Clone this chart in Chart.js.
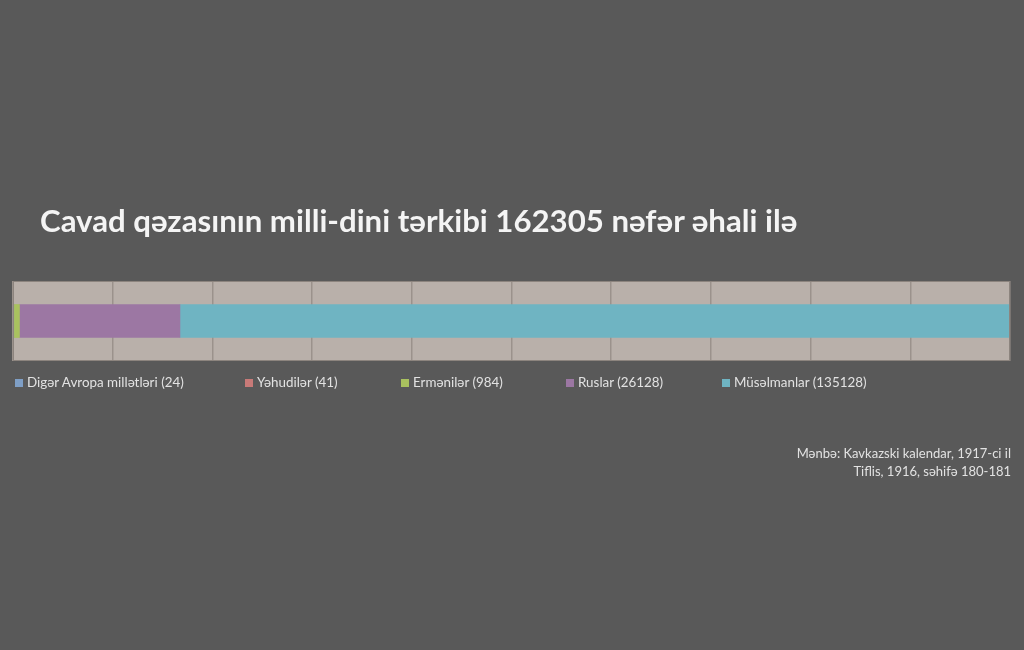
<!DOCTYPE html>
<html>
<head>
<meta charset="utf-8">
<script src="https://cdn.jsdelivr.net/npm/chart.js@4"></script>
<style>
  body { margin: 0; background: #595959; font-family: Lato, "Open Sans", sans-serif; }
  #wrap { position: relative; width: 1024px; height: 650px; overflow: hidden; }
  #title { position: absolute; left: 40px; top: 201px; font-size: 31.2px; font-weight: bold; color: #f4f4f4; white-space: nowrap; }
  #legend { position: absolute; top: 374px; left: 0; width: 1024px; height: 20px; font-size: 13.4px; color: #e2e2e2; }
  #legend span.item { position: absolute; white-space: nowrap; }
  #legend i { display: inline-block; width: 8px; height: 8px; margin-right: 4px; vertical-align: 0px; }
  #source { position: absolute; right: 13px; top: 444px; font-size: 13px; line-height: 18px; color: #e2e2e2; text-align: right; }
  canvas { position: absolute; left: 0; top: 0; }
</style>
</head>
<body>
<div id="wrap">
  <canvas id="chart" width="1024" height="650"></canvas>
  <div id="title">Cavad qəzasının milli-dini tərkibi 162305 nəfər əhali ilə</div>
  <div id="legend"></div>
  <div id="source">Mənbə: Kavkazski kalendar, 1917-ci il<br>Tiflis, 1916, səhifə 180-181</div>
</div>
<script>
const groups = ['Digər Avropa millətləri', 'Yəhudilər', 'Ermənilər', 'Ruslar', 'Müsəlmanlar'];
const counts = [24, 41, 984, 26128, 135128];
const barColors = ['#7f9fc6', '#c87a78', '#a9c15f', '#9c77a3', '#6fb4c2'];
const legendX = [15, 245, 401, 566, 722];

const total = counts.reduce((a, b) => a + b, 0);

const plotBg = {
    id: 'plotBg',
    beforeDraw(chart) {
        const { ctx, chartArea: a } = chart;
        ctx.save();
        ctx.fillStyle = '#b9b0aa';
        ctx.fillRect(a.left, a.top, a.width, a.height);
        ctx.restore();
    },
    afterDraw(chart) {
        const { ctx, chartArea: a } = chart;
        ctx.save();
        ctx.strokeStyle = '#8c847e';
        ctx.lineWidth = 1;
        ctx.strokeRect(a.left + 0.5, a.top + 0.5, a.width - 1, a.height - 1);
        ctx.restore();
    }
};

const chart = new Chart(document.getElementById('chart').getContext('2d'), {
    type: 'bar',
    data: {
        labels: [''],
        datasets: groups.map((g, i) => ({
            label: g + ' (' + counts[i] + ')',
            data: [counts[i]],
            backgroundColor: barColors[i],
            borderWidth: 0,
            barThickness: 33
        }))
    },
    options: {
        indexAxis: 'y',
        responsive: false,
        animation: false,
        layout: { padding: { left: 13, right: 14, top: 281, bottom: 289 } },
        plugins: { legend: { display: false }, tooltip: { enabled: false } },
        scales: {
            x: {
                stacked: true,
                min: 0,
                max: total,
                afterBuildTicks: (scale) => {
                    scale.ticks = [];
                    for (let i = 0; i <= 10; i++) scale.ticks.push({ value: total * i / 10 });
                },
                ticks: { display: false },
                border: { display: false },
                grid: { color: '#9b928c', lineWidth: 1.5, drawTicks: false }
            },
            y: { stacked: true, display: false }
        }
    },
    plugins: [plotBg]
});

const legend = document.getElementById('legend');
groups.forEach((g, i) => {
    const s = document.createElement('span');
    s.className = 'item';
    s.style.left = legendX[i] + 'px';
    s.innerHTML = '<i style="background:' + barColors[i] + '"></i>' + g + ' (' + counts[i] + ')';
    legend.appendChild(s);
});
</script>
</body>
</html>
